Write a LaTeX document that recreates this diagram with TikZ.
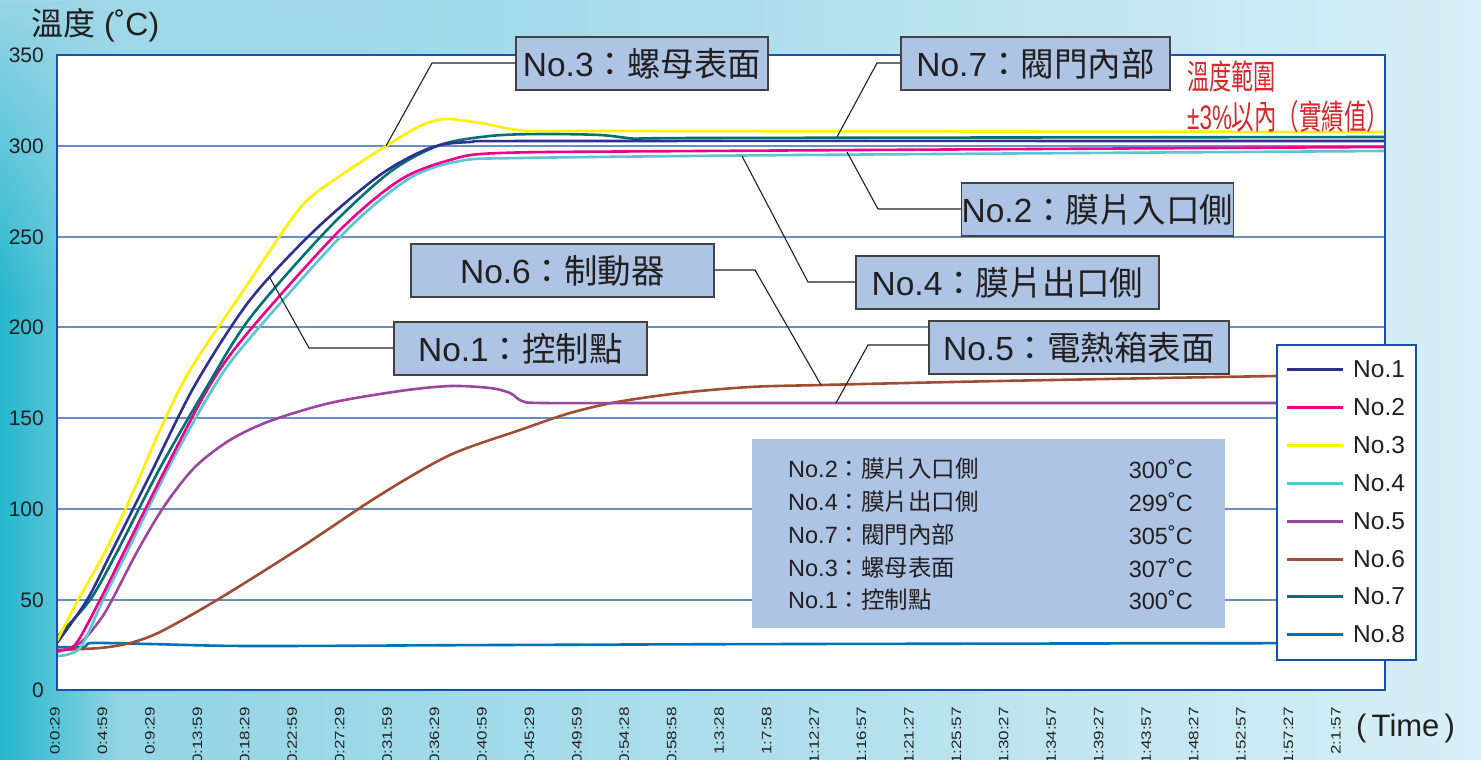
\documentclass[tikz,border=0pt]{standalone}
\usepackage{fontspec}
\usepackage{graphicx}
\setmainfont{Liberation Sans}
\newfontfamily\cjk{Noto Sans CJK TC}
\newcommand\zh[1]{{\cjk #1}}
\usetikzlibrary{fadings}
\definecolor{txt}{HTML}{231F20}
\definecolor{boxfill}{HTML}{ADC4E4}
\definecolor{frame}{HTML}{1B4FAE}
\definecolor{grid}{HTML}{6A8DC8}
\definecolor{redtxt}{HTML}{D9272E}
\definecolor{cA}{HTML}{2E3192}
\definecolor{cB}{HTML}{EC008C}
\definecolor{cC}{HTML}{FFF200}
\definecolor{cD}{HTML}{5BC5D0}
\definecolor{cE}{HTML}{9B479F}
\definecolor{cF}{HTML}{9E4F33}
\definecolor{cG}{HTML}{007073}
\definecolor{cH}{HTML}{0072BC}
\definecolor{bgL}{HTML}{8ED3E4}
\definecolor{bgM}{HTML}{ADDEEC}
\definecolor{bgR}{HTML}{D8EFF7}
\definecolor{bgD}{HTML}{12B2CA}
\definecolor{bgT}{HTML}{A3D9E9}
\tikzfading[name=fadeR, left color=transparent!0, right color=transparent!100]
\tikzfading[name=fadeD, top color=transparent!0, bottom color=transparent!100]
\begin{document}
\begin{tikzpicture}[x=1pt,y=-1pt,
  curve/.style={line width=2.6pt, line join=round},
  lbl/.style={draw=txt!85, line width=1.4pt, fill=boxfill, inner sep=0pt, text=txt,
    font=\fontsize{33.5}{38}\selectfont},
  leader/.style={draw=txt, line width=1.1pt},
  ylab/.style={anchor=east, text=txt, font=\fontsize{21}{24}\selectfont, inner sep=0pt},
  xlab/.style={anchor=east, rotate=90, text=txt, font=\fontsize{17}{20}\selectfont, inner sep=0pt},
  info/.style={anchor=west, text=txt, font=\fontsize{23.5}{26}\selectfont, inner sep=0pt},
  infov/.style={anchor=east, text=txt, font=\fontsize{23.5}{26}\selectfont, inner sep=0pt},
  legline/.style={line width=3pt},
  legtxt/.style={anchor=west, text=txt, font=\fontsize{24.5}{28}\selectfont, inner sep=0pt}]
\useasboundingbox (0,0) rectangle (1481,760);
\clip (0,0) rectangle (1481,760);
% background
\shade[left color=bgL, right color=bgR, middle color=bgM] (0,0) rectangle (1481,760);
\fill[bgD, path fading=fadeR, fill opacity=0.85] (0,0) rectangle (120,760);
\fill[bgT, path fading=fadeD, fill opacity=0.9] (0,0) rectangle (400,300);
% plot area
\fill[white] (57,55) rectangle (1385,690);
\foreach \yy in {146,237,327,418,509,600}
  \draw[grid, line width=1.5pt] (57,\yy) -- (1385,\yy);
% curves
\draw[curve, cH] plot[smooth, tension=0.5] coordinates {(57,647) (84,647) (92,643) (150,644) (250,646) (500,645) (800,644) (1385,643)};
\draw[curve, cF] plot[smooth, tension=0.5] coordinates {(57,650) (100,648) (130,643) (160,632) (217,600) (300,548) (380,495) (450,455) (520,430) (570,413) (617,402) (680,393) (750,387) (821,385) (1000,381) (1277,376) (1385,375)};
\draw[curve, cE] plot[smooth, tension=0.5] coordinates {(57,652) (80,643) (100,620) (112,600) (138,550) (165,505) (195,467) (230,440) (270,421) (330,403) (400,391) (450,386) (490,388) (510,393) (522,401) (545,403) (700,403) (1385,403)};
\draw[curve, cD] plot[smooth, tension=0.5] coordinates {(57,656) (80,648) (103,600) (128,550) (170,465) (215,385) (250,338) (347,230) (410,178) (460,161) (520,158) (800,155) (1385,151)};
\draw[curve, cB] plot[smooth, tension=0.5] coordinates {(57,650) (75,645) (100,600) (125,550) (165,470) (210,385) (250,330) (340,230) (400,180) (450,160) (500,153) (700,151) (1385,147)};
\draw[curve, cG] plot[smooth, tension=0.5] coordinates {(57,637) (90,600) (117,552) (160,468) (205,390) (250,318) (327,230) (390,172) (440,145) (490,136) (540,134) (600,135) (640,139) (700,138) (1385,137)};
\draw[curve, cA] plot[smooth, tension=0.5] coordinates {(57,643) (87,600) (110,555) (150,475) (195,385) (250,300) (315,230) (380,175) (430,148) (470,142) (560,141) (1385,141)};
\draw[curve, cC] plot[smooth, tension=0.5] coordinates {(57,641) (78,600) (106,550) (134,490) (160,430) (190,370) (245,288) (300,208) (340,176) (386,146) (420,126) (445,119) (480,123) (527,131) (600,131) (1385,132)};
\draw[frame, line width=2pt] (57,55) rectangle (1385,690);
% y labels
\foreach \v/\yy in {350/55,300/146,250/237,200/327,150/418,100/509,50/600,0/690}
  \node[ylab] at (44,\yy) {\v};
% title
\node[anchor=west, text=txt, inner sep=0pt, font=\fontsize{32}{36}\selectfont] (title) at (31,25) {\zh{溫度} (˚C)};
% x labels
\foreach \t [count=\i from 0] in {0:0:29,0:4:59,0:9:29,0:13:59,0:18:29,0:22:59,0:27:29,0:31:59,0:36:29,0:40:59,0:45:29,0:49:59,0:54:28,0:58:58,1:3:28,1:7:58,1:12:27,1:16:57,1:21:27,1:25:57,1:30:27,1:34:57,1:39:27,1:43:57,1:48:27,1:52:57,1:57:27,2:1:57}
  \node[xlab] at ({55+\i*47.44},707) {\scalebox{1}[0.8]{\t}};
\node[anchor=west, text=txt, inner sep=0pt, font=\fontsize{31}{34}\selectfont] (time) at (1356,728) {(\,Time\,)};
% red note
\node[anchor=west, text=redtxt, inner sep=0pt, font=\fontsize{34}{38}\selectfont] (r1) at (1187,76) {\scalebox{0.65}[1]{\zh{溫度範圍}}};
\node[anchor=west, text=redtxt, inner sep=0pt, font=\fontsize{34}{38}\selectfont] (r2) at (1187,117) {\scalebox{0.66}[1]{±3\%\zh{以內（實績值）}}};
% callout boxes
\node[lbl, minimum width=252pt, minimum height=53pt] (n3) at (642,63.5) {No.3\zh{：螺母表面}};
\node[lbl, minimum width=269pt, minimum height=53pt] (n7) at (1035.5,63.5) {No.7\zh{：閥門內部}};
\node[lbl, minimum width=269pt, minimum height=53pt] (n2) at (1097.5,209.5) {No.2\zh{：膜片入口側}};
\node[lbl, minimum width=303pt, minimum height=53pt] (n4) at (1007.5,282.5) {No.4\zh{：膜片出口側}};
\node[lbl, minimum width=303pt, minimum height=53pt] (n6) at (562.5,270.5) {No.6\zh{：制動器}};
\node[lbl, minimum width=253pt, minimum height=53pt] (n1) at (520.5,348.5) {No.1\zh{：控制點}};
\node[lbl, minimum width=300pt, minimum height=53pt] (n5) at (1079,347.5) {No.5\zh{：電熱箱表面}};
% leaders
\coordinate (e3) at (432,63);  \coordinate (t3) at (386,146);
\coordinate (e7) at (877,63);  \coordinate (t7) at (837,137);
\coordinate (e2) at (878,209); \coordinate (t2) at (847,152);
\coordinate (e4) at (808,282); \coordinate (t4) at (742,156);
\coordinate (e6) at (755,270); \coordinate (t6) at (821,385);
\coordinate (e5) at (868,345); \coordinate (t5) at (836,403);
\coordinate (e1) at (309,348); \coordinate (t1) at (270,278);
\draw[leader] (n3.west |- e3) -- (e3) -- (t3);
\draw[leader] (n7.west |- e7) -- (e7) -- (t7);
\draw[leader] (n2.west |- e2) -- (e2) -- (t2);
\draw[leader] (n4.west |- e4) -- (e4) -- (t4);
\draw[leader] (n6.east |- e6) -- (e6) -- (t6);
\draw[leader] (n5.west |- e5) -- (e5) -- (t5);
\draw[leader] (n1.west |- e1) -- (e1) -- (t1);
% info box
\node[fill=boxfill, inner sep=0pt, minimum width=473pt, minimum height=189pt] (infobox) at (988.5,533.5) {};
\node[info] (i2) at (788,469) {No.2\zh{：膜片入口側}};
\node[info] (i4) at (788,502) {No.4\zh{：膜片出口側}};
\node[info] (i7) at (788,535) {No.7\zh{：閥門內部}};
\node[info] (i3) at (788,568) {No.3\zh{：螺母表面}};
\node[info] (i1) at (788,600) {No.1\zh{：控制點}};
\node[infov] (v2) at (1193,469) {300˚C};
\node[infov] (v4) at (1193,502) {299˚C};
\node[infov] (v7) at (1193,535) {305˚C};
\node[infov] (v3) at (1193,568) {307˚C};
\node[infov] (v1) at (1193,600) {300˚C};
% legend
\node[draw=frame, line width=2pt, fill=white, inner sep=0pt, minimum width=139pt, minimum height=315pt] (legend) at (1346.5,502.5) {};
\foreach \c/\n/\yy in {cA/1/369,cB/2/407,cC/3/445,cD/4/483,cE/5/521,cF/6/559,cG/7/596,cH/8/634}{
  \draw[legline, \c] (1287,\yy) -- (1343,\yy);
  \node[legtxt] (leg\n) at (1353,\yy) {No.\n};
}
\end{tikzpicture}
\end{document}
